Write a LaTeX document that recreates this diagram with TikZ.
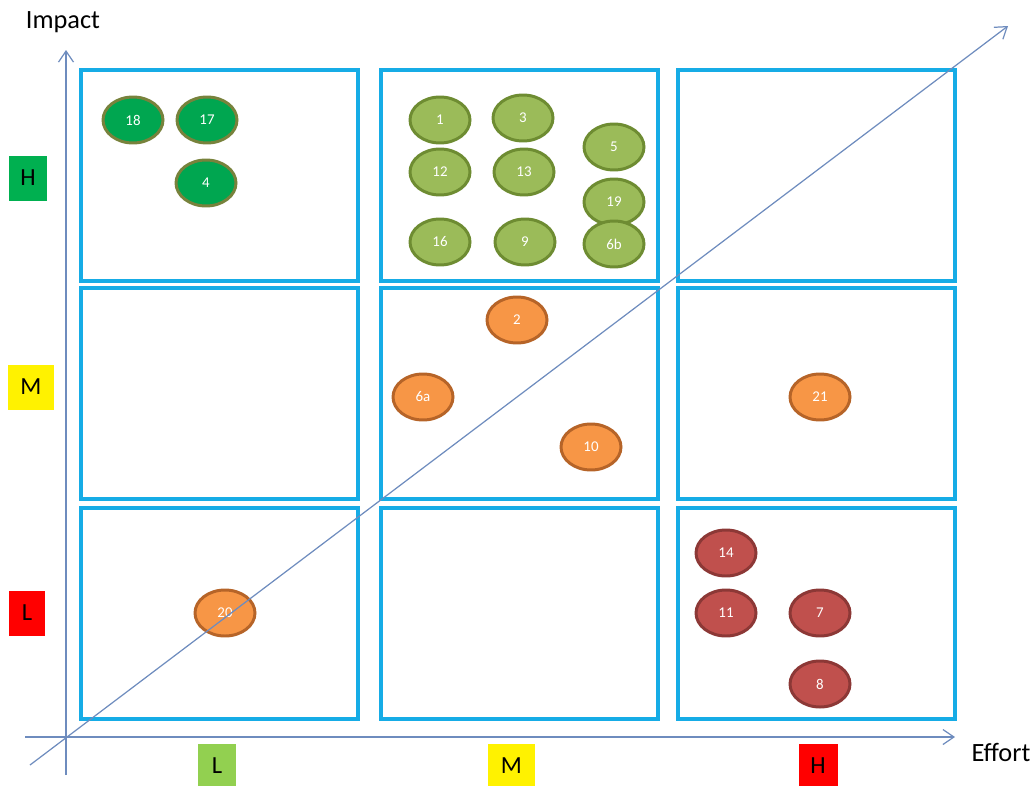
\documentclass[tikz,border=0pt]{standalone}
\usepackage{fontspec}
\setmainfont{Carlito}
\usetikzlibrary{arrows.meta,shapes.geometric}
\definecolor{cellblue}{RGB}{22,172,230}
\definecolor{axisblue}{RGB}{110,140,190}
\definecolor{dkgreen}{RGB}{0,166,80}
\definecolor{dkgreenline}{RGB}{120,130,60}
\definecolor{ltgreen}{RGB}{155,187,89}
\definecolor{ltgreenline}{RGB}{110,140,50}
\definecolor{orangefill}{RGB}{247,150,70}
\definecolor{orangeline}{RGB}{182,100,40}
\definecolor{redfill}{RGB}{192,80,77}
\definecolor{redline}{RGB}{140,56,54}
\definecolor{lvlgreen}{RGB}{0,176,80}
\definecolor{lvllime}{RGB}{146,208,80}

\begin{document}
\begin{tikzpicture}[x=0.02cm, y=-0.02cm,
	every node/.style={font=\small},
	>={Straight Barb[length=2.2mm, width=3mm]},
	cell/.style={draw=cellblue, line width=2pt, minimum width=5.54cm, minimum height=4.22cm, inner sep=0pt},
	axis/.style={draw=axisblue, line width=0.7pt},
	item/.style={ellipse, line width=1.7pt, minimum width=1.2cm, minimum height=0.92cm, inner sep=0pt, text=white, font=\fontsize{8.5}{9}\selectfont},
	hi/.style={item, fill=dkgreen, draw=dkgreenline},
	mid/.style={item, fill=ltgreen, draw=ltgreenline},
	org/.style={item, fill=orangefill, draw=orangeline},
	low/.style={item, fill=redfill, draw=redline},
	lvl/.style={minimum width=0.78cm, minimum height=0.9cm, inner sep=0pt, font=\fontsize{14}{15}\selectfont}]
	\useasboundingbox (0,0) rectangle (1035,785);
	% grid of cells
	\foreach \c/\x in {1/219.5,2/519.5,3/816.5} {
		\foreach \r/\y in {1/175.5,2/393.5,3/613.5} {
			\node[cell] (c\r\c) at (\x,\y) {};
		}
	}
	% axes
	\coordinate (ybot) at (66,775);
	\coordinate (ytop) at (66,50);
	\coordinate (xleft) at (25,737);
	\coordinate (xright) at (955,737);
	\draw[axis, ->] (ybot) -- (ytop);
	\draw[axis, ->] (xleft) -- (xright);
	\node (impact) at (63,22) {\fontsize{15}{16}\selectfont Impact};
	\node (effort) at (1001,752) {\fontsize{15}{16}\selectfont Effort};
	% levels
	\node[lvl, fill=lvlgreen, minimum width=0.78cm] (impH) at (28,178) {H};
	\node[lvl, fill=yellow, minimum width=0.94cm] (impM) at (31,387) {M};
	\node[lvl, fill=red, minimum width=0.74cm] (impL) at (27,613) {L};
	\node[lvl, fill=lvllime] (effL) at (217,766) {L};
	\node[lvl, fill=yellow, minimum width=0.94cm] (effM) at (511.5,766) {M};
	\node[lvl, fill=red] (effH) at (818,766) {H};
	% items
	\foreach \n/\x/\y in {18/133/120, 17/207/120, 4/206/183}
		\node[hi] (i\n) at (\x,\y) {\n};
	\foreach \n/\x/\y in {1/440/120, 3/523/118, 5/614/147, 12/440/172, 13/524/172, 19/614/202, 16/440/242, 9/525/242, 6b/614/244}
		\node[mid] (i\n) at (\x,\y) {\n};
	\foreach \n/\x/\y in {2/517/320, 6a/423/397, 10/591/447, 21/820/397, 20/225/613}
		\node[org] (i\n) at (\x,\y) {\n};
	\foreach \n/\x/\y in {14/726/553, 11/726/613, 7/820/613, 8/820/684}
		\node[low] (i\n) at (\x,\y) {\n};
	% diagonal
	\coordinate (dstart) at (30,765);
	\coordinate (dend) at (1008,26);
	\draw[axis, ->] (dstart) -- (dend);
\end{tikzpicture}
\end{document}
